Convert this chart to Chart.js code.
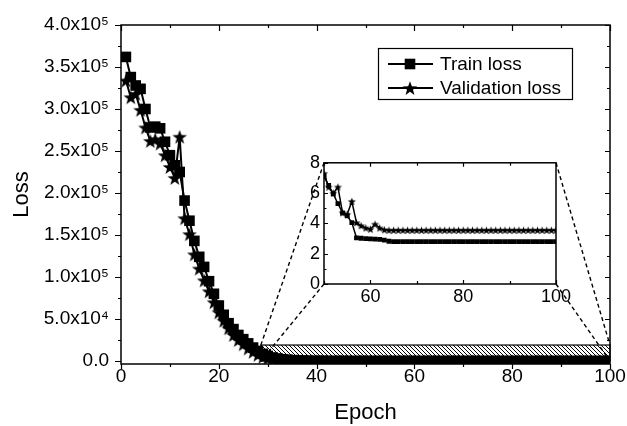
<!DOCTYPE html>
<html><head><meta charset="utf-8">
<script src="https://cdn.jsdelivr.net/npm/chart.js@4/dist/chart.umd.min.js"></script>
<style>
html,body{margin:0;padding:0;background:#fff;}
#wrap{position:relative;width:627px;height:426px;overflow:hidden;}
#main{position:absolute;left:0;top:0;}
#inset{position:absolute;left:288px;top:148px;}
</style></head><body>
<div id="wrap"><canvas id="main" width="627" height="426"></canvas><canvas id="inset" width="300" height="170"></canvas></div>
<script>
// ---------- data ----------
const epochs = [1,2,3,4,5,6,7,8,9,10,11,12,13,14,15,16,17,18,19,20,
21,22,23,24,25,26,27,28,29,30,31,32,33,34,35,36,37,38,39,40,
41,42,43,44,45,46,47,48,49,50,51,52,53,54,55,56,57,58,59,60,
61,62,63,64,65,66,67,68,69,70,71,72,73,74,75,76,77,78,79,80,
81,82,83,84,85,86,87,88,89,90,91,92,93,94,95,96,97,98,99,100];

const trainLoss = [362000,338000,328000,324000,300000,278000,279000,277000,261000,245000,
233000,225000,191000,167000,143000,124000,112000,95000,80000,66000,
55000,45000,38000,31000,26000,21000,16000,12000,8500,6000,
4200,3000,2100,1500,1000,700,480,330,220,150,
100,70,48,34,24,17,13,10,8.5,7.1,
6.5,5.95,5.3,4.7,4.5,4.05,3.05,3.02,3.0,2.98,
2.96,2.94,2.9,2.82,2.8,2.8,2.8,2.8,2.8,2.8,
2.8,2.8,2.8,2.8,2.8,2.8,2.8,2.8,2.8,2.8,
2.8,2.8,2.8,2.8,2.8,2.8,2.8,2.8,2.8,2.8,
2.8,2.8,2.8,2.8,2.8,2.8,2.8,2.8,2.8,2.8];

const validationLoss = [334000,314000,318000,299000,278000,262000,264000,259000,245000,231000,
218000,267000,170000,151000,127000,110000,96000,83000,70000,58000,
48000,39000,31000,25000,20000,15000,11000,7500,5000,3300,
2200,1500,1000,700,480,330,230,160,110,80,
58,42,31,23,17,13,10.5,9,8,7.3,
6.4,6.0,6.4,4.7,4.6,5.45,4.05,3.85,3.7,3.62,
3.95,3.7,3.58,3.55,3.55,3.55,3.55,3.55,3.55,3.55,
3.55,3.55,3.55,3.55,3.55,3.55,3.55,3.55,3.55,3.55,
3.55,3.55,3.55,3.55,3.55,3.55,3.55,3.55,3.55,3.55,
3.55,3.55,3.55,3.55,3.55,3.55,3.55,3.55,3.55,3.55];

const xTickValues = [0,20,40,60,80,100];
const yTickValues = [0,50000,100000,150000,200000,250000,300000,350000,400000];
const yTickLabels = ['0.0','5.0x10\u2074','1.0x10\u2075','1.5x10\u2075','2.0x10\u2075','2.5x10\u2075','3.0x10\u2075','3.5x10\u2075','4.0x10\u2075'];
const insetXTickValues = [60,80,100];
const insetYTickValues = [0,2,4,6,8];
const zoomRange = {x0:28.6, x1:100, y0:0, y1:19000};
const insetStart = 50;

// ---------- styling helpers ----------
const FONT = '"Liberation Sans", Arial, Helvetica, sans-serif';
function starImg(R, r){
  const s = Math.ceil(2*R+2);
  const c = document.createElement('canvas'); c.width = s; c.height = s;
  const g = c.getContext('2d'); g.fillStyle = '#000'; g.beginPath();
  const cy = s/2 + R*0.1;
  for(let i=0;i<10;i++){
    const a = -Math.PI/2 + i*Math.PI/5; const rr = (i%2)? r : R;
    g.lineTo(s/2 + rr*Math.cos(a), cy + rr*Math.sin(a));
  }
  g.closePath(); g.fill(); return c;
}
const starBig = starImg(7.6, 3.1);
const starSmall = starImg(4.2, 1.8);

function hatchPattern(ctx){
  const p = document.createElement('canvas'); p.width = 4; p.height = 4;
  const g = p.getContext('2d'); g.fillStyle='#fff'; g.fillRect(0,0,4,4);
  g.strokeStyle = '#000'; g.lineWidth = 1;
  g.beginPath(); g.moveTo(-1,-1); g.lineTo(5,5); g.moveTo(-1,3); g.lineTo(1,5); g.moveTo(3,-1); g.lineTo(5,1); g.stroke();
  return ctx.createPattern(p,'repeat');
}

function minorValues(ticks, min, max){
  const v = ticks.map(t=>t.value); const out = [];
  for(let i=0;i<v.length-1;i++) out.push((v[i]+v[i+1])/2);
  if (v.length>1){
    const step = (v[1]-v[0])/2;
    if (v[0]-step >= min) out.push(v[0]-step);
    if (v[v.length-1]+step <= max) out.push(v[v.length-1]+step);
  }
  return out;
}

function drawFrame(chart, cfg){
  const {ctx, chartArea:a, scales:{x, y}} = chart;
  ctx.save();
  ctx.strokeStyle = '#000'; ctx.lineWidth = cfg.lw;
  ctx.strokeRect(a.left, a.top, a.right-a.left, a.bottom-a.top);
  ctx.lineWidth = 1.2;
  const xm = x.ticks.map(t=>t.value), xn = minorValues(x.ticks, x.min, x.max);
  const ym = y.ticks.map(t=>t.value), yn = minorValues(y.ticks, y.min, y.max);
  ctx.beginPath();
  const vx = (vals, len, side) => vals.forEach(v=>{
    const px = Math.round(x.getPixelForValue(v))+0.5;
    if (side==='bottomOut'){ ctx.moveTo(px,a.bottom); ctx.lineTo(px,a.bottom+len); }
    if (side==='bottomIn'){ ctx.moveTo(px,a.bottom); ctx.lineTo(px,a.bottom-len); }
    if (side==='topIn'){ ctx.moveTo(px,a.top); ctx.lineTo(px,a.top+len); }
  });
  const vy = (vals, len, side) => vals.forEach(v=>{
    const py = Math.round(y.getPixelForValue(v))+0.5;
    if (py < a.top-1 || py > a.bottom+1) return;
    if (side==='leftOut'){ ctx.moveTo(a.left,py); ctx.lineTo(a.left-len,py); }
    if (side==='leftIn'){ ctx.moveTo(a.left,py); ctx.lineTo(a.left+len,py); }
    if (side==='rightIn'){ ctx.moveTo(a.right,py); ctx.lineTo(a.right-len,py); }
  });
  cfg.x.forEach(s=>{ vx(xm, s.major, s.side); vx(xn, s.minor, s.side); });
  cfg.y.forEach(s=>{ vy(ym, s.major, s.side); vy(yn, s.minor, s.side); });
  ctx.stroke();
  ctx.restore();
}

// ---------- inset chart ----------
const insetEl = document.getElementById('inset');
const insetOffset = {left: 288, top: 148};
const insetTrain = epochs.map((e,i)=>({x:e, y:trainLoss[i]})).filter(p=>p.x>=insetStart);
const insetVal = epochs.map((e,i)=>({x:e, y:validationLoss[i]})).filter(p=>p.x>=insetStart);

const inset = new Chart(insetEl, {
  type: 'line',
  data: { datasets: [
    {label:'Train loss', data: insetTrain, borderColor:'#000', backgroundColor:'#000', borderWidth:1.5,
     pointStyle:'rect', pointRadius:3.4, pointBorderWidth:0, tension:0, clip:0},
    {label:'Validation loss', data: insetVal, borderColor:'#000', backgroundColor:'#000', borderWidth:1.5,
     pointStyle: starSmall, pointRadius:4, pointBorderWidth:0, tension:0, clip:0}
  ]},
  options: {
    responsive:false, animation:false, devicePixelRatio:1,
    layout:{padding:{top:13, right:32, left:0, bottom:0}},
    plugins:{legend:{display:false}, tooltip:{enabled:false}},
    scales:{
      x:{type:'linear', min:insetStart, max:100,
         afterFit:s=>{s.height=34;},
         afterBuildTicks:s=>{s.ticks = insetXTickValues.map(v=>({value:v}));},
         grid:{display:false, drawTicks:false}, border:{display:false},
         ticks:{padding:2, color:'#000', font:{size:18, family:FONT}, maxRotation:0, autoSkip:false}},
      y:{type:'linear', min:0, max:8,
         afterFit:s=>{s.width=36;},
         afterBuildTicks:s=>{s.ticks = insetYTickValues.map(v=>({value:v}));},
         grid:{display:false, drawTicks:false}, border:{display:false},
         ticks:{padding:4, color:'#000', font:{size:18, family:FONT}, autoSkip:false}}
    }
  },
  plugins:[{
    id:'insetFrame',
    beforeDraw(chart){ const {ctx, chartArea:a} = chart; ctx.save(); ctx.fillStyle='#fff'; ctx.fillRect(a.left,a.top,a.right-a.left,a.bottom-a.top); ctx.restore(); },
    afterDraw(chart){ drawFrame(chart, {lw:1.5,
      x:[{side:'bottomIn', major:4, minor:3},{side:'topIn', major:4, minor:3}],
      y:[{side:'leftIn', major:4, minor:2.5}]}); }
  }]
});

// ---------- main chart ----------
const mainEl = document.getElementById('main');
const main = new Chart(mainEl, {
  type: 'line',
  data: { datasets: [
    {label:'Train loss', data: epochs.map((e,i)=>({x:e, y:trainLoss[i]})), borderColor:'#000', backgroundColor:'#000', borderWidth:2,
     pointStyle:'rect', pointRadius:7.5, pointBorderWidth:0, tension:0, clip:0},
    {label:'Validation loss', data: epochs.map((e,i)=>({x:e, y:validationLoss[i]})), borderColor:'#000', backgroundColor:'#000', borderWidth:2,
     pointStyle: starBig, pointRadius:7.5, pointBorderWidth:0, tension:0, clip:0}
  ]},
  options: {
    responsive:false, animation:false, devicePixelRatio:1,
    layout:{padding:{top:25, right:17, left:0, bottom:0}},
    plugins:{legend:{display:false}, tooltip:{enabled:false}},
    scales:{
      x:{type:'linear', min:0, max:100,
         afterFit:s=>{s.height=62;},
         afterBuildTicks:s=>{s.ticks = xTickValues.map(v=>({value:v}));},
         grid:{display:false, drawTicks:false}, border:{display:false},
         ticks:{padding:1, color:'#000', font:{size:19, family:FONT}, maxRotation:0, autoSkip:false},
         title:{display:true, text:'Epoch', color:'#000', font:{size:22, family:FONT}, padding:{top:0, bottom:0}}},
      y:{type:'linear', min:-3571, max:400000,
         afterFit:s=>{s.width=121;},
         afterBuildTicks:s=>{s.ticks = yTickValues.map(v=>({value:v}));},
         grid:{display:false, drawTicks:false}, border:{display:false},
         ticks:{padding:12, color:'#000', font:{size:19, family:FONT}, autoSkip:false,
                callback:(v,i)=>yTickLabels[i]},
         title:{display:true, text:'Loss', color:'#000', font:{size:22, family:FONT}, padding:{top:9, bottom:0}}}
    }
  },
  plugins:[{
    id:'zoomBox',
    beforeDatasetsDraw(chart){
      const {ctx, scales:{x,y}} = chart;
      const l = x.getPixelForValue(zoomRange.x0), r = x.getPixelForValue(zoomRange.x1);
      const t = y.getPixelForValue(zoomRange.y1), b = y.getPixelForValue(zoomRange.y0);
      ctx.save();
      ctx.fillStyle = hatchPattern(ctx);
      ctx.fillRect(l, t, r-l, b-t);
      ctx.strokeStyle='#000'; ctx.lineWidth=1.2;
      ctx.strokeRect(l, t, r-l, b-t);
      ctx.restore();
    },
    afterDraw(chart){
      const {ctx, scales:{x,y}} = chart;
      drawFrame(chart, {lw:1.5,
        x:[{side:'bottomOut', major:5, minor:3},{side:'topIn', major:6, minor:3}],
        y:[{side:'leftOut', major:6, minor:3},{side:'rightIn', major:5, minor:3}]});
      // connector lines from zoom region to inset
      const ia = inset.chartArea;
      const iL = insetOffset.left + ia.left, iR = insetOffset.left + ia.right;
      const iT = insetOffset.top + ia.top, iB = insetOffset.top + ia.bottom;
      const l = x.getPixelForValue(zoomRange.x0), r = x.getPixelForValue(zoomRange.x1);
      const t = y.getPixelForValue(zoomRange.y1), b = y.getPixelForValue(zoomRange.y0);
      ctx.save();
      ctx.strokeStyle='#000'; ctx.lineWidth=1.4; ctx.setLineDash([4,3]);
      ctx.beginPath();
      ctx.moveTo(iL,iT); ctx.lineTo(l,t);
      ctx.moveTo(iL,iB); ctx.lineTo(l,b);
      ctx.moveTo(iR,iT); ctx.lineTo(r,t);
      ctx.moveTo(iR,iB); ctx.lineTo(r,b);
      ctx.stroke();
      ctx.restore();
      // legend box
      const box = {x:378, y:48, w:194, h:51};
      ctx.save();
      ctx.fillStyle='#fff'; ctx.fillRect(box.x, box.y, box.w, box.h);
      ctx.strokeStyle='#000'; ctx.lineWidth=1.2; ctx.strokeRect(box.x+0.5, box.y+0.5, box.w, box.h);
      const rows = [64, 88];
      chart.data.datasets.forEach((ds, i)=>{
        const yy = rows[i];
        ctx.strokeStyle='#000'; ctx.lineWidth=2; ctx.setLineDash([]);
        ctx.beginPath(); ctx.moveTo(388, yy); ctx.lineTo(433, yy); ctx.stroke();
        if (ds.pointStyle === 'rect'){ ctx.fillStyle='#000'; ctx.fillRect(410-5.3, yy-5.3, 10.6, 10.6); }
        else { ctx.drawImage(ds.pointStyle, 410-ds.pointStyle.width/2, yy-ds.pointStyle.height/2); }
        ctx.fillStyle='#000'; ctx.font = '19px ' + FONT; ctx.textBaseline='middle'; ctx.textAlign='left';
        ctx.fillText(ds.label, 440, yy+1);
      });
      ctx.restore();
    }
  }]
});
</script>
</body></html>
